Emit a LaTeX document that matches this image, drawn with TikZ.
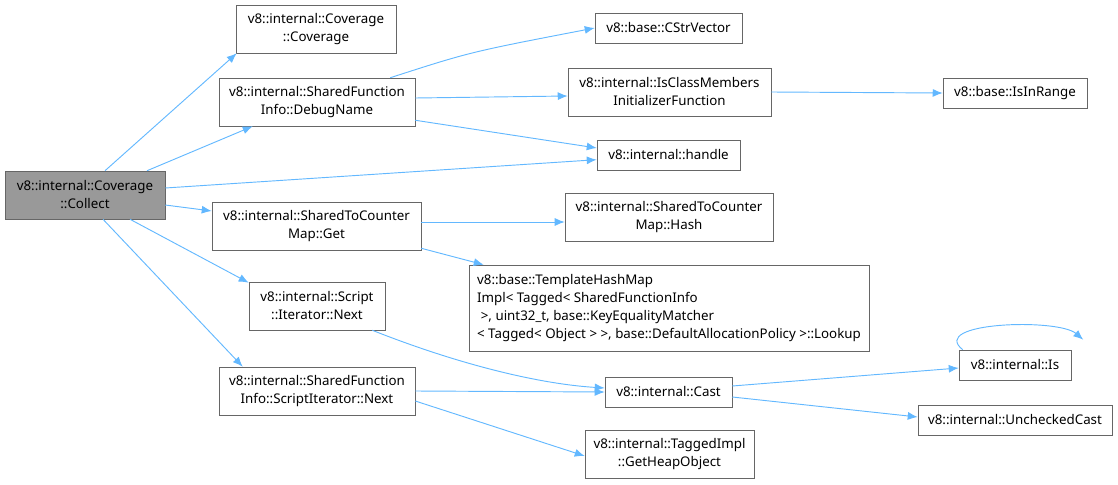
\documentclass[tikz,border=0pt]{standalone}
\usepackage{fontspec}
\setmainfont{Noto Sans}
\usepackage{xcolor}
\usetikzlibrary{arrows.meta,positioning,calc}
\definecolor{EdgeBlue}{HTML}{63B8FF}
\definecolor{BoxGray}{HTML}{666666}
\definecolor{RootFill}{HTML}{999999}

\begin{document}
\begin{tikzpicture}[
  x=0.75pt, y=-0.75pt,
  font=\fontsize{10}{13.5}\selectfont,
  fn/.style={draw=BoxGray,fill=white,inner sep=0pt,align=center,minimum height=36pt},
  fnone/.style={fn,minimum height=22.5pt},
  call/.style={-{Latex[length=7.5pt,width=6pt]},draw=EdgeBlue,line width=0.7pt}
]
  \useasboundingbox (0,0) rectangle (1118,485);

  % caller
  \node[fn,fill=RootFill,minimum width=120pt] (collect) at (85,195) {v8::internal::Coverage\\::Collect};

  % first level
  \node[fn,minimum width=120pt] (ctor) at (316,29) {v8::internal::Coverage\\::Coverage};
  \node[fn,minimum width=147pt] (debugname) at (317,102) {v8::internal::SharedFunction\\Info::DebugName};
  \node[fn,minimum width=156.75pt] (mapget) at (316.5,226) {v8::internal::SharedToCounter\\Map::Get};
  \node[fn,minimum width=102pt] (scriptnext) at (317,306) {v8::internal::Script\\::Iterator::Next};
  \node[fn,minimum width=147pt] (sfinext) at (317,391) {v8::internal::SharedFunction\\Info::ScriptIterator::Next};

  % second level
  \node[fnone,minimum width=110.25pt] (cstr) at (668.5,28) {v8::base::CStrVector};
  \node[fn,minimum width=152.25pt] (isclass) at (669.5,92) {v8::internal::IsClassMembers\\InitializerFunction};
  \node[fnone,minimum width=107.25pt] (handle) at (668.5,155) {v8::internal::handle};
  \node[fn,minimum width=156pt] (maphash) at (669,217) {v8::internal::SharedToCounter\\Map::Hash};
  \node[fn,align=left,minimum width=300pt,minimum height=64.5pt] (lookup) at (669,308)
    {v8::base::TemplateHashMap\\Impl< Tagged< SharedFunctionInfo\\\hspace*{0.28em}>, uint32\_t, base::KeyEqualityMatcher\\< Tagged< Object > >, base::DefaultAllocationPolicy >::Lookup};
  \node[fnone,minimum width=95.25pt] (cast) at (668.5,392) {v8::internal::Cast};
  \node[fn,minimum width=126.75pt] (heapobj) at (669.5,454) {v8::internal::TaggedImpl\\::GetHeapObject};

  % third level
  \node[fnone,minimum width=108pt] (inrange) at (1015,93) {v8::base::IsInRange};
  \node[fnone,minimum width=84pt] (is) at (1015,365) {v8::internal::Is};
  \node[fnone,minimum width=145.5pt] (unchecked) at (1015,420) {v8::internal::UncheckedCast};

  \draw[call] ($(collect.north)+(20,0)$) -- ($(ctor.south west)+(1,0)$);
  \draw[call] ($(collect.north)+(62,0)$) -- ($(debugname.south west)+(34,0)$);
  \draw[call] ($(collect.east)+(0,-7)$) -- (handle);
  \draw[call] ($(collect.east)+(0,10)$) -- ($(mapget.west)+(0,-15)$);
  \draw[call] ($(collect.south)+(45,0)$) -- ($(scriptnext.north west)+(0,1)$);
  \draw[call] ($(collect.south)+(18,0)$) -- ($(sfinext.north west)+(24,0)$);

  \draw[call] ($(debugname.north east)+(-25,0)$) .. controls (470,52) .. (cstr.west);
  \draw[call] ($(debugname.east)+(0,-4)$) -- ($(isclass.west)+(0,4)$);
  \draw[call] ($(debugname.south east)+(0,-6)$) -- ($(handle.west)+(0,-7)$);
  \draw[call] (isclass.east) -- (inrange.west);

  \draw[call] ($(mapget.east)+(0,-4)$) -- ($(maphash.west)+(0,5)$);
  \draw[call] ($(mapget.south east)+(0,-2)$) -- ($(lookup.north west)+(15,0)$);

  \draw[call] ($(scriptnext.south east)+(-13,0)$) .. controls (460,365) and (540,384) .. ($(cast.west)+(0,-4)$);
  \draw[call] (sfinext.east) -- (cast.west);
  \draw[call] ($(sfinext.east)+(0,10)$) -- ($(heapobj.west)+(0,2)$);

  \draw[call] ($(cast.east)+(0,-6)$) -- ($(is.west)+(0,3)$);
  \draw[call] ($(cast.east)+(0,5)$) -- ($(unchecked.west)+(0,-3)$);
  \draw[call] ($(is.north west)+(4,0)$) .. controls (928,322) and (1058,318) .. ($(is.north east)+(12,-10)$);
\end{tikzpicture}
\end{document}
